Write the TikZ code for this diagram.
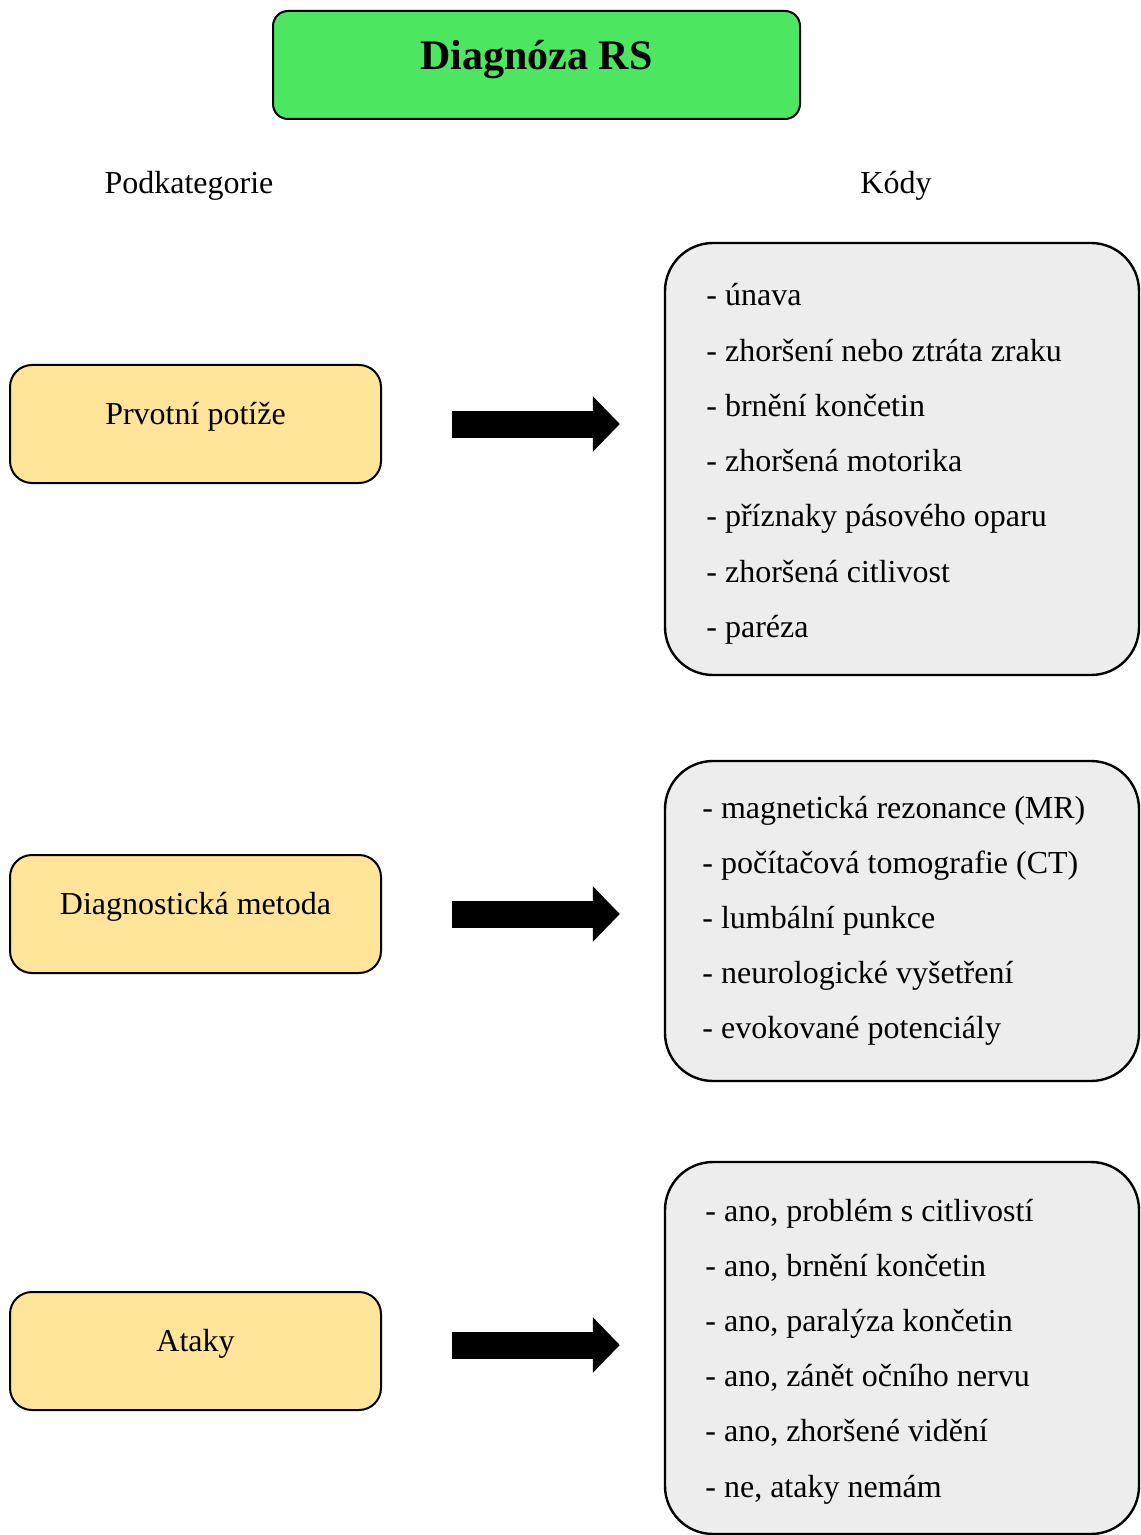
\documentclass[tikz,border=0pt]{standalone}
\usepackage{fontspec}
\setmainfont{Liberation Serif}
\usetikzlibrary{arrows.meta}
\definecolor{titlegreen}{RGB}{76,230,96}
\definecolor{catyellow}{RGB}{255,229,153}
\definecolor{codegray}{RGB}{237,237,237}
\begin{document}
\begin{tikzpicture}[x=0.5pt,y=-0.5pt,
  titlebox/.style={draw, line width=1pt, fill=titlegreen, rounded corners=7.5pt,
    minimum width=263.5pt, minimum height=54pt, inner sep=0pt},
  titletext/.style={font=\bfseries\fontsize{21}{25}\selectfont, inner sep=0pt, anchor=base},
  header/.style={font=\fontsize{16}{19}\selectfont, inner sep=0pt, anchor=base},
  catbox/.style={draw, line width=1pt, fill=catyellow, rounded corners=11pt,
    minimum width=185.5pt, minimum height=59pt, inner sep=0pt},
  cattext/.style={font=\fontsize{16}{19}\selectfont, inner sep=0pt, anchor=base},
  codebox/.style={draw, line width=1.2pt, fill=codegray, rounded corners=24pt,
    minimum width=237pt, inner sep=0pt},
  item/.style={font=\fontsize{16}{19}\selectfont, inner sep=0pt, anchor=base west},
  bigarrow/.style={line width=13.5pt, -{Triangle[length=13.5pt,width=27pt]},
    shorten <=35pt, shorten >=22pt},
]
\useasboundingbox (0,0) rectangle (1140,1535);

% title
\node[titlebox] (title) at (536.5,65) {};
\node[titletext] (titlelbl) at (536.5,70) {Diagnóza RS};

% column headers
\node[header] (hcat) at (189,194) {Podkategorie};
\node[header] (hcode) at (896,194) {Kódy};

% subcategory boxes
\node[catbox] (p1) at (195.5,424) {};
\node[cattext] (p1t) at (p1.center) {Prvotní potíže};
\node[catbox] (p2) at (195.5,914) {};
\node[cattext] (p2t) at (p2.center) {Diagnostická metoda};
\node[catbox] (p3) at (195.5,1351) {};
\node[cattext] (p3t) at (p3.center) {Ataky};

% code boxes
\node[codebox, minimum height=216pt] (k1) at (902,459) {};
\node[codebox, minimum height=160pt] (k2) at (902,921) {};
\node[codebox, minimum height=186pt] (k3) at (902,1348) {};

% code lists
\node[item] (a1) at (706,306.0) {- únava};
\node[item] (a2) at (706,361.2) {- zhoršení nebo ztráta zraku};
\node[item] (a3) at (706,416.4) {- brnění končetin};
\node[item] (a4) at (706,471.6) {- zhoršená motorika};
\node[item] (a5) at (706,526.8) {- příznaky pásového oparu};
\node[item] (a6) at (706,582.0) {- zhoršená citlivost};
\node[item] (a7) at (706,637.2) {- paréza};

\node[item] (b1) at (702,818.0) {- magnetická rezonance (MR)};
\node[item] (b2) at (702,873.2) {- počítačová tomografie (CT)};
\node[item] (b3) at (702,928.4) {- lumbální punkce};
\node[item] (b4) at (702,983.6) {- neurologické vyšetření};
\node[item] (b5) at (702,1038.8) {- evokované potenciály};

\node[item] (c1) at (705,1221.0) {- ano, problém s citlivostí};
\node[item] (c2) at (705,1276.2) {- ano, brnění končetin};
\node[item] (c3) at (705,1331.4) {- ano, paralýza končetin};
\node[item] (c4) at (705,1386.6) {- ano, zánět očního nervu};
\node[item] (c5) at (705,1441.8) {- ano, zhoršené vidění};
\node[item] (c6) at (705,1497.0) {- ne, ataky nemám};

% arrows
\draw[bigarrow] (p1.east) -- (p1.east -| k1.west);
\draw[bigarrow] (p2.east) -- (p2.east -| k2.west);
\draw[bigarrow] ([yshift=3pt]p3.east) -- ([yshift=3pt]p3.east -| k3.west);
\end{tikzpicture}
\end{document}
